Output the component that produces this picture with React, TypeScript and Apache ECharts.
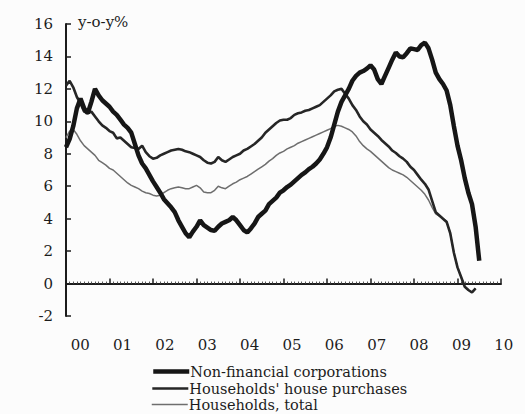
import React, { useEffect, useRef } from "react";
import * as echarts from "echarts";

const startYear = 2000;
const xLabels = ["00", "01", "02", "03", "04", "05", "06", "07", "08", "09", "10"];
const yTicks = { min: -2, max: 16, interval: 2 };
const seriesNames = ["Non-financial corporations", "Households' house purchases", "Households, total"];

// monthly, Jan 2000 onward
const nonFinancial = [
  8.4, 8.9, 9.7, 10.8, 11.4, 10.8, 10.5, 11.2, 12.0, 11.6, 11.3, 11.1,
  10.9, 10.6, 10.4, 10.1, 9.8, 9.6, 9.3, 8.6, 7.9, 7.4, 7.1, 6.7,
  6.3, 5.95, 5.6, 5.2, 4.95, 4.7, 4.4, 3.9, 3.5, 3.1, 2.85, 3.2,
  3.5, 3.9, 3.6, 3.45, 3.3, 3.25, 3.5, 3.7, 3.8, 3.9, 4.1, 3.9,
  3.6, 3.3, 3.15, 3.4, 3.7, 4.1, 4.3, 4.5, 4.9, 5.1, 5.3, 5.6,
  5.75, 5.95, 6.1, 6.3, 6.5, 6.7, 6.85, 7.05, 7.2, 7.4, 7.65, 8.0,
  8.4, 9.0, 9.8, 10.6, 11.2, 11.6, 12.0, 12.5, 12.8, 13.0, 13.1, 13.25,
  13.45, 13.2, 12.6, 12.3, 12.8, 13.3, 13.8, 14.25, 14.0, 13.95, 14.2, 14.5,
  14.45, 14.4, 14.7, 14.85, 14.5, 13.8, 13.0, 12.6, 12.3, 11.9, 11.0, 9.7,
  8.5, 7.6, 6.5, 5.6, 4.9, 3.5, 1.4,
];

const housePurchases = [
  12.2, 12.5, 12.1, 11.5, 11.1, 10.6, 10.5, 10.6, 10.3, 10.0, 9.75, 9.6,
  9.4, 9.3, 8.95, 9.0, 8.8, 8.6, 8.4, 8.35, 8.3, 8.5, 8.1, 7.85,
  7.7, 7.75, 7.9, 8.0, 8.1, 8.2, 8.25, 8.3, 8.25, 8.15, 8.1, 8.0,
  7.9, 7.8, 7.6, 7.45, 7.4, 7.5, 7.8, 7.6, 7.5, 7.65, 7.8, 7.9,
  8.0, 8.2, 8.3, 8.45, 8.6, 8.8, 9.0, 9.3, 9.5, 9.7, 9.9, 10.05,
  10.1, 10.1, 10.2, 10.4, 10.5, 10.55, 10.65, 10.7, 10.8, 10.9, 11.0, 11.2,
  11.4, 11.6, 11.85, 11.95, 12.0, 11.7, 11.4, 11.0, 10.7, 10.3, 10.0, 9.8,
  9.5, 9.3, 9.1, 8.85, 8.65, 8.45, 8.2, 8.05, 7.85, 7.7, 7.5, 7.2,
  7.0, 6.7, 6.4, 6.15, 5.8, 5.1, 4.4, 4.2, 4.0, 3.8, 3.1, 1.9,
  1.0, 0.4, -0.2, -0.4, -0.55, -0.3,
];

const householdsTotal = [
  9.0, 9.4, 9.5, 9.2, 8.8, 8.5, 8.3, 8.1, 7.9, 7.6, 7.45, 7.3,
  7.1, 7.0, 6.8, 6.6, 6.4, 6.2, 6.05, 5.95, 5.85, 5.7, 5.6, 5.55,
  5.45, 5.4, 5.45, 5.6, 5.75, 5.85, 5.9, 5.95, 5.9, 5.85, 5.85, 5.95,
  6.05, 5.9, 5.65, 5.6, 5.6, 5.75, 6.0, 5.9, 5.85, 6.0, 6.15, 6.25,
  6.4, 6.5, 6.6, 6.75, 6.9, 7.05, 7.2, 7.35, 7.55, 7.7, 7.9, 8.05,
  8.15, 8.3, 8.4, 8.5, 8.65, 8.75, 8.85, 8.95, 9.05, 9.15, 9.25, 9.35,
  9.45, 9.55, 9.7, 9.75, 9.7, 9.6, 9.5, 9.35, 9.1, 8.75, 8.5, 8.3,
  8.15, 7.95, 7.75, 7.55, 7.35, 7.15, 7.0, 6.9, 6.8, 6.7, 6.55, 6.35,
  6.15, 5.95, 5.75, 5.5, 5.15, 4.7, 4.3, 4.15, 4.0, 3.85, 3.1, 1.9,
  1.0, 0.4, -0.2, -0.4, -0.55, -0.3,
];

const toPoints = (arr: number[]) => arr.map((v, i) => [startYear + i / 12, v]);

const FONT = "DejaVu Serif";
const INK = "#1c1c1c";

const legendTops = [364, 381, 397];

export default function App() {
  const ref = useRef<HTMLDivElement>(null);
  useEffect(() => {
    if (!ref.current) return;
    const chart = echarts.init(ref.current, null, { renderer: "svg" });
    const legends = seriesNames.map((name, i) => ({
      orient: "vertical",
      left: 151,
      top: legendTops[i],
      padding: 0,
      itemWidth: 36,
      itemHeight: 14,
      itemGap: 0,
      data: [name],
      selectedMode: false,
      textStyle: { fontFamily: FONT, fontSize: 14.5, lineHeight: 15, color: INK, padding: [0, 0, 0, -4] },
      lineStyle: { width: "inherit" },
      itemStyle: { opacity: 0 },
    }));
    chart.setOption({
      animation: false,
      backgroundColor: "#fcfcfc",
      textStyle: { fontFamily: FONT, color: INK },
      grid: [
        { left: 66, right: 24, top: 24, bottom: 98 },
        { left: 59, width: 478.5, top: 24, bottom: 98 },
      ],
      legend: legends,
      xAxis: [
        {
          type: "value",
          gridIndex: 0,
          min: 2000,
          max: 2010,
          interval: 1,
          axisLine: { onZero: true, lineStyle: { color: INK, width: 2 } },
          axisTick: { show: true, inside: true, length: 5, lineStyle: { color: INK, width: 1.5 } },
          minorTick: { show: true, splitNumber: 12, length: 2, lineStyle: { color: "#555", width: 1 } },
          axisLabel: { show: false },
          splitLine: { show: false },
        },
        {
          type: "category",
          gridIndex: 1,
          data: xLabels,
          boundaryGap: true,
          position: "bottom",
          axisLine: { show: false },
          axisTick: { show: false },
          axisLabel: { margin: 21, fontFamily: FONT, fontSize: 15, color: INK },
          splitLine: { show: false },
        },
      ],
      yAxis: [
        {
          type: "value",
          gridIndex: 0,
          min: yTicks.min,
          max: yTicks.max,
          interval: yTicks.interval,
          name: "y-o-y%",
          nameLocation: "end",
          nameGap: 2,
          nameTextStyle: {
            fontFamily: FONT,
            fontSize: 15,
            color: INK,
            align: "left",
            verticalAlign: "middle",
            padding: [0, 0, 0, 12],
          },
          axisLine: { show: true, onZero: false, lineStyle: { color: INK, width: 2 } },
          axisTick: { show: true, inside: true, length: 5, lineStyle: { color: INK, width: 1.5 } },
          axisLabel: { margin: 13, fontFamily: FONT, fontSize: 15, color: INK },
          splitLine: { show: false },
        },
        {
          type: "value",
          gridIndex: 1,
          min: yTicks.min,
          max: yTicks.max,
          show: false,
        },
      ],
      series: [
        {
          name: seriesNames[2],
          type: "line",
          xAxisIndex: 0,
          yAxisIndex: 0,
          data: toPoints(householdsTotal),
          showSymbol: false,
          symbol: "none",
          itemStyle: { color: "#6e6e6e" },
          lineStyle: { color: "#6e6e6e", width: 1.5 },
          z: 2,
        },
        {
          name: seriesNames[1],
          type: "line",
          xAxisIndex: 0,
          yAxisIndex: 0,
          data: toPoints(housePurchases),
          showSymbol: false,
          symbol: "none",
          itemStyle: { color: "#262626" },
          lineStyle: { color: "#262626", width: 2.6 },
          z: 3,
        },
        {
          name: seriesNames[0],
          type: "line",
          xAxisIndex: 0,
          yAxisIndex: 0,
          data: toPoints(nonFinancial),
          showSymbol: false,
          symbol: "none",
          itemStyle: { color: "#161616" },
          lineStyle: { color: "#161616", width: 4.5 },
          z: 4,
        },
      ],
    });
    return () => chart.dispose();
  }, []);
  return (
    <div
      ref={ref}
      style={{ position: "fixed", left: 0, top: 0, width: 525, height: 414 }}
    />
  );
}
